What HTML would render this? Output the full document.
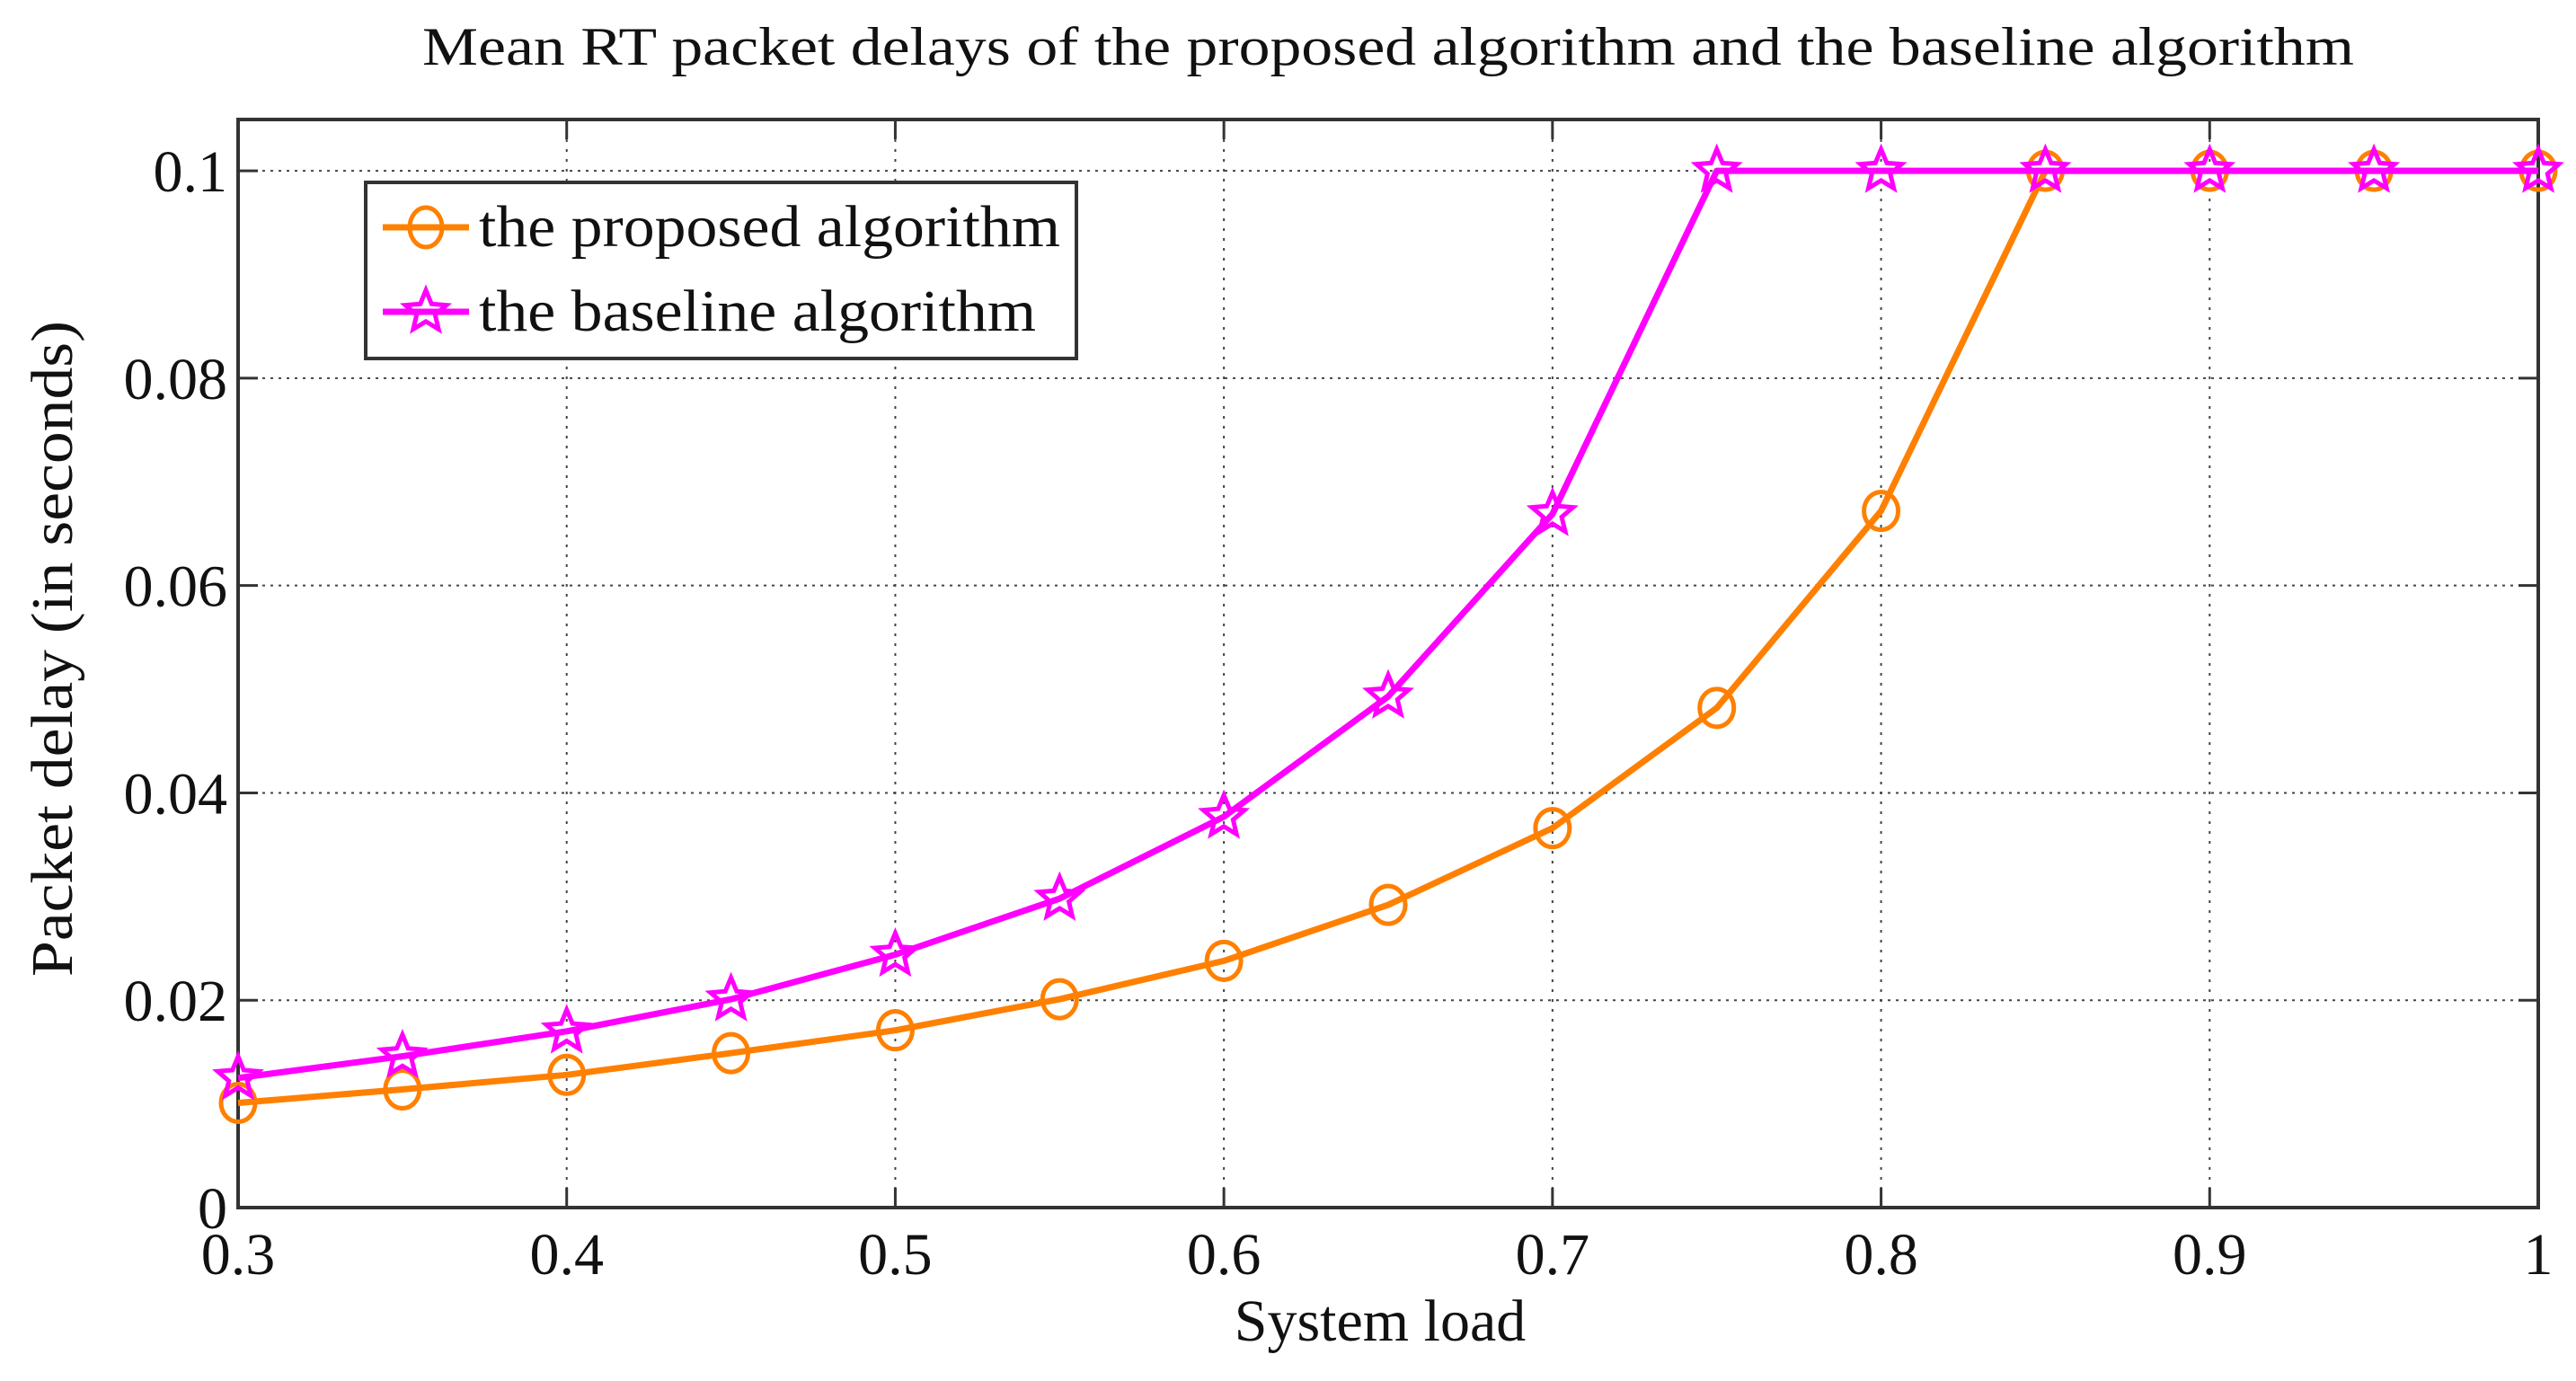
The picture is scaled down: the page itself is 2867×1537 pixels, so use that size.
<!DOCTYPE html>
<html><head><meta charset="utf-8"><style>
html,body{margin:0;padding:0;background:#fff}
svg text{font-family:"Liberation Serif",serif;fill:#111}
</style></head><body>
<svg id="chart" width="2867" height="1532" viewBox="0 0 2867 1532" xmlns="http://www.w3.org/2000/svg">
<rect width="2867" height="1532" fill="#fff"/>
<text x="1545" y="72" font-size="60" text-anchor="middle" textLength="2150" lengthAdjust="spacingAndGlyphs">Mean RT packet delays of the proposed algorithm and the baseline algorithm</text>
<g id="grid"></g>
<rect x="265" y="133" width="2560" height="1211" fill="none" stroke="#333" stroke-width="4"/>
<g id="ticks"></g>
<g id="series"></g>
<text x="1536" y="1492" font-size="66" text-anchor="middle">System load</text>
<text transform="translate(80,722) rotate(-90)" font-size="66" text-anchor="middle" textLength="730" lengthAdjust="spacingAndGlyphs">Packet delay (in seconds)</text>
<g>
<rect x="407" y="203" width="791" height="196" fill="#fff" stroke="#333" stroke-width="4"/>
<line x1="426" y1="253" x2="522" y2="253" stroke="#ff8000" stroke-width="7"/>
<ellipse cx="474" cy="253" rx="18" ry="22" fill="none" stroke="#ff8000" stroke-width="5"/>
<text x="533" y="274" font-size="66" textLength="647" lengthAdjust="spacingAndGlyphs">the proposed algorithm</text>
<line x1="426" y1="347" x2="522" y2="347" stroke="#ff00ff" stroke-width="7"/>
<polygon id="legstar" fill="none" stroke="#ff00ff" stroke-width="5"/>
<text x="533" y="368" font-size="66" textLength="620" lengthAdjust="spacingAndGlyphs">the baseline algorithm</text>
</g>
</svg>
<script>
const xCategories=[0.3,0.35,0.4,0.45,0.5,0.55,0.6,0.65,0.7,0.75,0.8,0.85,0.9,0.95,1.0];
const proposedValues=[0.0101,0.0114,0.0128,0.0149,0.0171,0.0201,0.0238,0.0292,0.0366,0.0482,0.0672,0.1,0.1,0.1,0.1];
const baselineValues=[0.0125,0.0146,0.0170,0.0201,0.0244,0.0298,0.0377,0.0493,0.0669,0.1,0.1,0.1,0.1,0.1,0.1];
const xTicks=[0.3,0.4,0.5,0.6,0.7,0.8,0.9,1];
const xTickLabels=["0.3","0.4","0.5","0.6","0.7","0.8","0.9","1"];
const yTicks=[0,0.02,0.04,0.06,0.08,0.1];
const yTickLabels=["0","0.02","0.04","0.06","0.08","0.1"];
const L=265,R=2825,T=133,B=1344,XMIN=0.3,XMAX=1,YMIN=0,YMAX=0.10495;
const xs=v=>L+(v-XMIN)/(XMAX-XMIN)*(R-L);
const ys=v=>B-(v-YMIN)/(YMAX-YMIN)*(B-T);
const NS="http://www.w3.org/2000/svg";
function mk(tag,attrs,parent){const e=document.createElementNS(NS,tag);for(const k in attrs)e.setAttribute(k,attrs[k]);parent.appendChild(e);return e;}
const grid=document.getElementById('grid'),ticks=document.getElementById('ticks'),ser=document.getElementById('series');
xTicks.forEach((v,i)=>{const x=xs(v);
 if(i>0&&i<xTicks.length-1){const g=mk('line',{x1:x,y1:T,x2:x,y2:B,stroke:'#444','stroke-width':2,'stroke-dasharray':'3 8'},grid);
 
 }
 mk('line',{x1:x,y1:B,x2:x,y2:B-22,stroke:'#333','stroke-width':3},ticks);
 mk('line',{x1:x,y1:T,x2:x,y2:T+22,stroke:'#333','stroke-width':3},ticks);
 const t=mk('text',{x:x,y:1418,'font-size':66,'text-anchor':'middle'},ticks);t.textContent=xTickLabels[i];
 
 });
yTicks.forEach((v,i)=>{const y=ys(v);
 if(i>0){const g=mk('line',{x1:L,y1:y,x2:R,y2:y,stroke:'#444','stroke-width':2,'stroke-dasharray':'3 6'},grid);
 
 }
 mk('line',{x1:L,y1:y,x2:L+22,y2:y,stroke:'#333','stroke-width':3},ticks);
 mk('line',{x1:R,y1:y,x2:R-22,y2:y,stroke:'#333','stroke-width':3},ticks);
 const t=mk('text',{x:253,y:y+23,'font-size':66,'text-anchor':'end'},ticks);t.textContent=yTickLabels[i];
 
 });
function starPts(cx,cy,r){let p=[];for(let k=0;k<10;k++){const a=-Math.PI/2+k*Math.PI/5;const rr=k%2?r*0.45:r;p.push((cx+rr*Math.cos(a)).toFixed(1)+','+(cy+rr*Math.sin(a)).toFixed(1));}return p.join(' ');}
document.getElementById('legstar').setAttribute('points',starPts(474,347,24));
function drawSeries(vals,color,name,marker){
 const pl=mk('polyline',{points:xCategories.map((c,i)=>xs(c)+','+ys(vals[i])).join(' '),fill:'none',stroke:color,'stroke-width':7,'stroke-linejoin':'round'},ser);
 
 
 xCategories.forEach((c,i)=>{let m;
  if(marker==='circle')m=mk('ellipse',{cx:xs(c),cy:ys(vals[i]),rx:19,ry:21,fill:'none',stroke:color,'stroke-width':5},ser);
  else m=mk('polygon',{points:starPts(xs(c),ys(vals[i]),24),fill:'none',stroke:color,'stroke-width':5},ser);
  
  });
}
drawSeries(proposedValues,'#ff8000','proposed','circle');
drawSeries(baselineValues,'#ff00ff','baseline','star');
</script>
</body></html>
